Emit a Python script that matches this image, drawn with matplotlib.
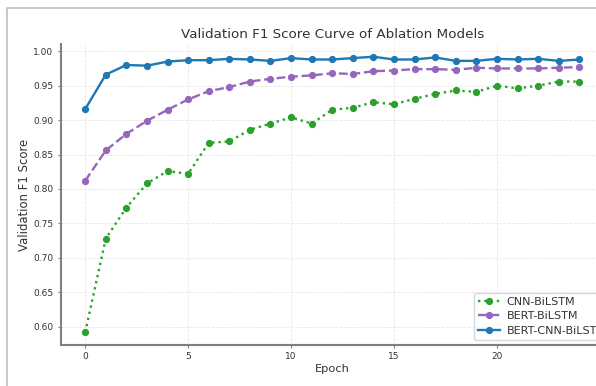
import matplotlib
matplotlib.use("Agg")
import matplotlib.pyplot as plt
from matplotlib.lines import Line2D

epochs = list(range(25))
cnn_bilstm = [0.592, 0.728, 0.773, 0.808, 0.826, 0.822, 0.867, 0.869, 0.886, 0.895,
              0.904, 0.895, 0.915, 0.918, 0.926, 0.923, 0.931, 0.938, 0.943, 0.941,
              0.950, 0.946, 0.950, 0.956, 0.956]
bert_bilstm = [0.812, 0.856, 0.880, 0.899, 0.915, 0.930, 0.942, 0.948, 0.956, 0.960,
               0.963, 0.965, 0.968, 0.967, 0.971, 0.972, 0.974, 0.974, 0.973, 0.976,
               0.975, 0.975, 0.975, 0.976, 0.977]
bert_cnn_bilstm = [0.916, 0.966, 0.980, 0.979, 0.985, 0.987, 0.987, 0.989, 0.988, 0.986,
                   0.990, 0.988, 0.988, 0.990, 0.992, 0.988, 0.988, 0.991, 0.986, 0.986,
                   0.989, 0.988, 0.989, 0.986, 0.988]

W, H = 596, 386
fig = plt.figure(figsize=(W / 100, H / 100), dpi=100)
fig.patch.set_facecolor("white")

# outer frame of the screenshot
fx = 6.5 / W
fy = 1 - 7.5 / H
fig.add_artist(Line2D([fx, fx, 1.0], [0.0, fy, fy], transform=fig.transFigure,
                      color="#c4c4c4", lw=1.3))

left_px, right_px, top_px, bottom_px = 60.5, 604, 44, 345
ax = fig.add_axes([left_px / W, 1 - bottom_px / H,
                   (right_px - left_px) / W, (bottom_px - top_px) / H])

ax.plot(epochs, cnn_bilstm, linestyle=":", marker="o", color="#2ca02c",
        lw=1.7, ms=4.2, label="CNN-BiLSTM")
ax.plot(epochs, bert_bilstm, linestyle="--", marker="o", color="#9467bd",
        lw=1.7, ms=4.2, label="BERT-BiLSTM")
ax.plot(epochs, bert_cnn_bilstm, linestyle="-", marker="o", color="#1f77b4",
        lw=1.7, ms=4.2, label="BERT-CNN-BiLSTM")

ax.set_xlim(-1.2, 25.2)
ax.set_ylim(0.5735, 1.0105)
ax.set_xticks([0, 5, 10, 15, 20])
ax.set_yticks([0.60, 0.65, 0.70, 0.75, 0.80, 0.85, 0.90, 0.95, 1.00])

txt = "#333333"
ax.set_title("Validation F1 Score Curve of Ablation Models", fontsize=9.7, color=txt, pad=4.5)
ax.set_xlabel("Epoch", fontsize=8.2, color=txt, labelpad=2.5)
ax.set_ylabel("Validation F1 Score", fontsize=8.4, color=txt, labelpad=1.5)

ax.grid(True, linestyle="--", color="#e6e6e6", lw=0.6)
for s in ["top", "right"]:
    ax.spines[s].set_visible(False)
for s in ["left", "bottom"]:
    ax.spines[s].set_color("#808080")
    ax.spines[s].set_linewidth(1.5)
ax.tick_params(axis="both", labelsize=6.5, labelcolor=txt, color="#808080",
               length=2.5, width=0.8, pad=2.5)

leg = ax.legend(loc="upper left", fontsize=8, frameon=True, borderpad=0.35,
                labelspacing=0.4, handlelength=2.0, handletextpad=0.6,
                borderaxespad=0, bbox_to_anchor=(474 / W, 1 - 293 / H),
                bbox_transform=fig.transFigure)
leg.get_frame().set_edgecolor("#d0d0d0")
for t in leg.get_texts():
    t.set_color(txt)

fig.savefig("out.png", dpi=100)
